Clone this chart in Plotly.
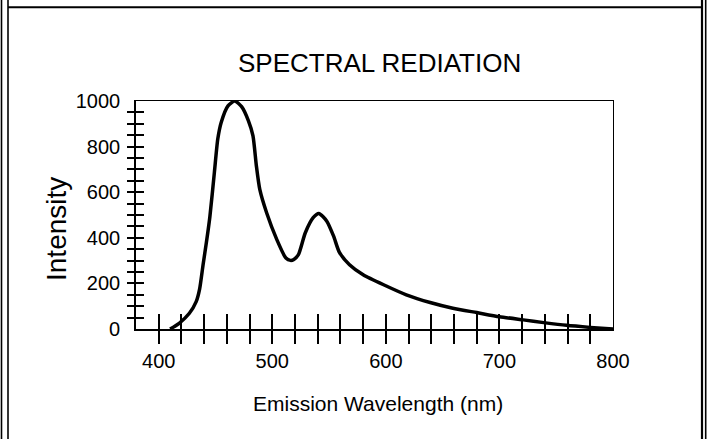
import plotly.graph_objects as go

# ---- data ----
wavelength = [410, 418, 427, 433, 436, 439, 442, 445, 449, 452, 455, 461, 467, 473, 479,
              483, 486, 489, 495, 504, 512, 516, 519, 523, 529, 536, 541, 548, 554, 559,
              568, 580, 598, 618, 639, 659, 680, 700, 721, 739, 759, 780, 800]
intensity = [0, 25, 69, 120, 175, 280, 380, 490, 686, 833, 906, 979, 1000, 975, 913,
             847, 715, 612, 510, 392, 311, 301, 305, 326, 421, 488, 507, 473, 407, 337,
             282, 238, 194, 150, 116, 91, 72, 54, 40, 28, 16, 7, 0]

x_label_vals = [400, 500, 600, 700, 800]
x_tick_vals = list(range(400, 800, 20))
y_label_vals = [0, 200, 400, 600, 800, 1000]
y_tick_vals = list(range(50, 1000, 50))

title_text = "SPECTRAL REDIATION"
x_title = "Emission Wavelength (nm)"
y_title = "Intensity"

# ---- layout geometry ----
W, H = 707, 439
ML, MR, MT, MB = 136, 94, 101, 110
PW, PH = W - ML - MR, H - MT - MB
FONT = "Liberation Sans, Arial, sans-serif"


def px_x(p):
    return (p - ML) / PW


def px_y(p):
    return (H - MB - p) / PH


XR = [380, 800]
YR = [0, 1000]

fig = go.Figure()
fig.add_trace(go.Scatter(x=wavelength, y=intensity, mode="lines",
                         line=dict(color="black", width=3.5, shape="spline", smoothing=0.6),
                         hoverinfo="skip", showlegend=False))
# empty traces to activate the overlay axes
fig.add_trace(go.Scatter(x=[], y=[], xaxis="x2", yaxis="y2", showlegend=False))
fig.add_trace(go.Scatter(x=[], y=[], xaxis="x3", yaxis="y3", showlegend=False))
fig.add_trace(go.Scatter(x=[], y=[], xaxis="x4", yaxis="y4", showlegend=False))

common_font = dict(family=FONT, size=20, color="black")

fig.update_layout(
    width=W, height=H,
    margin=dict(l=ML, r=MR, t=MT, b=MB),
    paper_bgcolor="white", plot_bgcolor="white",
    showlegend=False,
    xaxis=dict(range=XR, tickvals=x_label_vals, ticks="", showgrid=False, zeroline=False,
               showline=True, linecolor="black", linewidth=2, tickfont=common_font,
               ticklabelstandoff=13),
    yaxis=dict(range=YR, tickvals=y_label_vals, ticks="", showgrid=False, zeroline=False,
               showline=True, linecolor="black", linewidth=1.7, tickfont=common_font,
               ticklabelstandoff=10),
    # ticks outside
    xaxis2=dict(range=XR, overlaying="x", anchor="y", side="bottom", tickvals=x_tick_vals,
                ticks="outside", ticklen=14, tickwidth=2, tickcolor="black",
                showticklabels=False, showgrid=False, zeroline=False, showline=False),
    yaxis2=dict(range=YR, overlaying="y", anchor="x", side="left", tickvals=y_tick_vals,
                ticks="outside", ticklen=8, tickwidth=1.7, tickcolor="black",
                showticklabels=False, showgrid=False, zeroline=False, showline=False),
    # ticks inside
    xaxis3=dict(range=XR, overlaying="x", anchor="y", side="bottom", tickvals=x_tick_vals,
                ticks="inside", ticklen=15, tickwidth=2, tickcolor="black",
                showticklabels=False, showgrid=False, zeroline=False, showline=False),
    yaxis3=dict(range=YR, overlaying="y", anchor="x", side="left", tickvals=y_tick_vals,
                ticks="inside", ticklen=8, tickwidth=1.7, tickcolor="black",
                showticklabels=False, showgrid=False, zeroline=False, showline=False),
    # thin top / right frame
    xaxis4=dict(range=XR, overlaying="x", anchor="y", side="top", showline=True,
                linecolor="black", linewidth=1.2, ticks="", showticklabels=False,
                showgrid=False, zeroline=False),
    yaxis4=dict(range=YR, overlaying="y", anchor="x", side="right", showline=True,
                linecolor="black", linewidth=1.2, ticks="", showticklabels=False,
                showgrid=False, zeroline=False),
)

fig.add_annotation(text=title_text, xref="paper", yref="paper", x=px_x(379.5), y=px_y(63),
                   xanchor="center", yanchor="middle", showarrow=False,
                   font=dict(family=FONT, size=26, color="black"))
fig.add_annotation(text=x_title, xref="paper", yref="paper", x=px_x(378), y=px_y(403),
                   xanchor="center", yanchor="middle", showarrow=False,
                   font=dict(family=FONT, size=21, color="black"))
fig.add_annotation(text=y_title, xref="paper", yref="paper", x=px_x(56), y=px_y(229),
                   xanchor="center", yanchor="middle", showarrow=False, textangle=-90,
                   font=dict(family=FONT, size=28, color="black"))

# outer page frame lines
frame = dict(color="black", width=1.6)
fig.add_shape(type="line", xref="paper", yref="paper", x0=px_x(1.5), x1=px_x(1.5),
              y0=px_y(0), y1=px_y(H), line=frame)
fig.add_shape(type="line", xref="paper", yref="paper", x0=px_x(8), x1=px_x(8),
              y0=px_y(0), y1=px_y(H), line=frame)
fig.add_shape(type="line", xref="paper", yref="paper", x0=px_x(8), x1=px_x(702),
              y0=px_y(7.3), y1=px_y(7.3), line=dict(color="black", width=2))
fig.add_shape(type="line", xref="paper", yref="paper", x0=px_x(702), x1=px_x(702),
              y0=px_y(0), y1=px_y(H), line=dict(color="black", width=2.2))
fig.add_shape(type="line", xref="paper", yref="paper", x0=px_x(705.7), x1=px_x(705.7),
              y0=px_y(0), y1=px_y(H), line=frame)

fig.write_html("out.html")
